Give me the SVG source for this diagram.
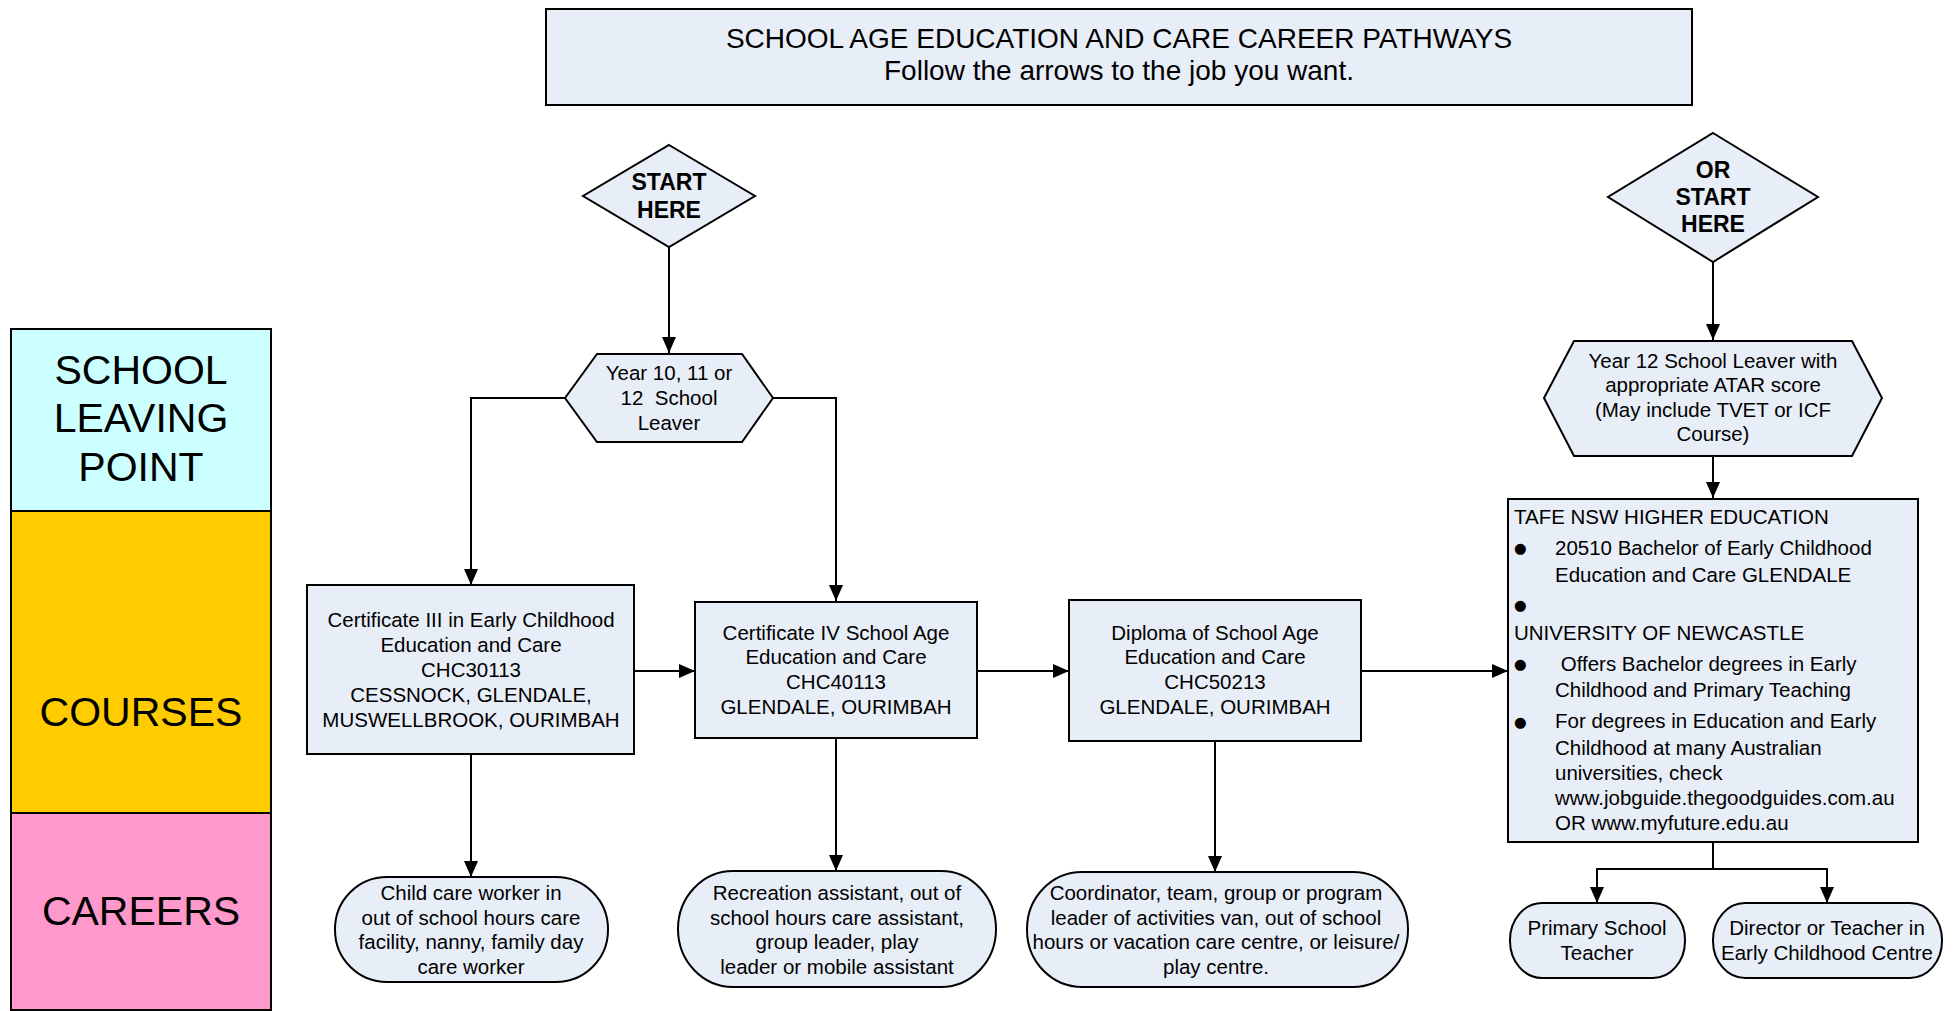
<svg xmlns="http://www.w3.org/2000/svg" width="1959" height="1011" viewBox="0 0 1959 1011">
<defs>
<style>
text{font-family:"Liberation Sans",Arial,sans-serif;fill:#000;white-space:pre}
.n{fill:#E8EEF7;stroke:#000;stroke-width:2}
.b{font-size:20.5px;text-anchor:middle}
.l{font-size:20.5px}
.bu{font-family:"DejaVu Sans",sans-serif;font-size:14.5px}
.h{font-size:23px;font-weight:bold;text-anchor:middle}
.big{font-size:41px;text-anchor:middle}
.t{font-size:28px;text-anchor:middle}
.c{fill:none;stroke:#000;stroke-width:2}
</style>
<marker id="ar" viewBox="0 0 16 14" refX="16" refY="7" markerWidth="16" markerHeight="14" markerUnits="userSpaceOnUse" orient="auto">
<path d="M0,0 L16,7 L0,14 Z" fill="#000"/>
</marker>
</defs>
<rect width="1959" height="1011" fill="#fff"/>

<g id="band-leaving">
<rect x="11" y="329" width="260" height="182" fill="#CCFFFF" stroke="#000" stroke-width="2"/>
<text class="big" x="141" y="384">SCHOOL</text>
<text class="big" x="141" y="432">LEAVING</text>
<text class="big" x="141" y="481">POINT</text>
</g>
<g id="band-courses">
<rect x="11" y="511" width="260" height="302" fill="#FFCC00" stroke="#000" stroke-width="2"/>
<text class="big" x="141" y="726">COURSES</text>
</g>
<g id="band-careers">
<rect x="11" y="813" width="260" height="197" fill="#FF99CC" stroke="#000" stroke-width="2"/>
<text class="big" x="141" y="925">CAREERS</text>
</g>

<g id="title">
<rect class="n" x="546" y="9" width="1146" height="96" stroke-width="2.5"/>
<text class="t" x="1119" y="48">SCHOOL AGE EDUCATION AND CARE CAREER PATHWAYS</text>
<text class="t" x="1119" y="80">Follow the arrows to the job you want.</text>
</g>

<g id="connectors">
<line class="c" x1="669" y1="247" x2="669" y2="353" marker-end="url(#ar)"/>
<polyline class="c" points="565,398 471,398 471,585" marker-end="url(#ar)"/>
<polyline class="c" points="773,398 836,398 836,601" marker-end="url(#ar)"/>
<line class="c" x1="634" y1="671" x2="695" y2="671" marker-end="url(#ar)"/>
<line class="c" x1="977" y1="671" x2="1069" y2="671" marker-end="url(#ar)"/>
<line class="c" x1="1361" y1="671" x2="1508" y2="671" marker-end="url(#ar)"/>
<line class="c" x1="471" y1="754" x2="471" y2="877" marker-end="url(#ar)"/>
<line class="c" x1="836" y1="738" x2="836" y2="871" marker-end="url(#ar)"/>
<line class="c" x1="1215" y1="741" x2="1215" y2="872" marker-end="url(#ar)"/>
<line class="c" x1="1713" y1="262" x2="1713" y2="340" marker-end="url(#ar)"/>
<line class="c" x1="1713" y1="456" x2="1713" y2="498" marker-end="url(#ar)"/>
<polyline class="c" points="1713,842 1713,869 1597,869 1597,903" marker-end="url(#ar)"/>
<polyline class="c" points="1713,869 1827,869 1827,903" marker-end="url(#ar)"/>
</g>

<g id="start-here">
<polygon class="n" points="669,145 755,196 669,247 583,196"/>
<text class="h" x="669" y="190">START</text>
<text class="h" x="669" y="218">HERE</text>
</g>

<g id="year-10-11-12">
<polygon class="n" points="565,398 597,354 742,354 773,398 742,442 597,442"/>
<text class="b" x="669" y="380">Year 10, 11 or</text>
<text class="b" x="669" y="405">12  School</text>
<text class="b" x="669" y="430">Leaver</text>
</g>

<g id="cert-iii">
<rect class="n" x="307" y="585" width="327" height="169"/>
<text class="b" x="471" y="627">Certificate III in Early Childhood</text>
<text class="b" x="471" y="652">Education and Care</text>
<text class="b" x="471" y="677">CHC30113</text>
<text class="b" x="471" y="702">CESSNOCK, GLENDALE,</text>
<text class="b" x="471" y="727">MUSWELLBROOK, OURIMBAH</text>
</g>

<g id="cert-iv">
<rect class="n" x="695" y="602" width="282" height="136"/>
<text class="b" x="836" y="640">Certificate IV School Age</text>
<text class="b" x="836" y="664">Education and Care</text>
<text class="b" x="836" y="689">CHC40113</text>
<text class="b" x="836" y="714">GLENDALE, OURIMBAH</text>
</g>

<g id="diploma">
<rect class="n" x="1069" y="600" width="292" height="141"/>
<text class="b" x="1215" y="640">Diploma of School Age</text>
<text class="b" x="1215" y="664">Education and Care</text>
<text class="b" x="1215" y="689">CHC50213</text>
<text class="b" x="1215" y="714">GLENDALE, OURIMBAH</text>
</g>

<g id="or-start-here">
<polygon class="n" points="1713,133 1818,197 1713,262 1608,197"/>
<text class="h" x="1713" y="178">OR</text>
<text class="h" x="1713" y="205">START</text>
<text class="h" x="1713" y="232">HERE</text>
</g>

<g id="year-12">
<polygon class="n" points="1544,398 1574,341 1852,341 1882,398 1852,456 1574,456"/>
<text class="b" x="1713" y="368">Year 12 School Leaver with</text>
<text class="b" x="1713" y="392">appropriate ATAR score</text>
<text class="b" x="1713" y="417">(May include TVET or ICF</text>
<text class="b" x="1713" y="441">Course)</text>
</g>

<g id="higher-education">
<rect class="n" x="1508" y="499" width="410" height="343"/>
<text class="l" x="1514" y="524">TAFE NSW HIGHER EDUCATION</text>
<text class="bu" x="1514" y="553">●</text>
<text class="l" x="1555" y="555">20510 Bachelor of Early Childhood</text>
<text class="l" x="1555" y="582">Education and Care GLENDALE</text>
<text class="bu" x="1514" y="610">●</text>
<text class="l" x="1514" y="640">UNIVERSITY OF NEWCASTLE</text>
<text class="bu" x="1514" y="669">●</text>
<text class="l" x="1555" y="671"> Offers Bachelor degrees in Early</text>
<text class="l" x="1555" y="697">Childhood and Primary Teaching</text>
<text class="bu" x="1514" y="727">●</text>
<text class="l" x="1555" y="728">For degrees in Education and Early</text>
<text class="l" x="1555" y="755">Childhood at many Australian</text>
<text class="l" x="1555" y="780">universities, check</text>
<text class="l" x="1555" y="805">www.jobguide.thegoodguides.com.au</text>
<text class="l" x="1555" y="830">OR www.myfuture.edu.au</text>
</g>

<g id="career-childcare">
<rect class="n" x="335" y="877" width="273" height="105" rx="52" ry="52"/>
<text class="b" x="471" y="900">Child care worker in</text>
<text class="b" x="471" y="925">out of school hours care</text>
<text class="b" x="471" y="949">facility, nanny, family day</text>
<text class="b" x="471" y="974">care worker</text>
</g>

<g id="career-recreation">
<rect class="n" x="678" y="871" width="318" height="116" rx="55" ry="58"/>
<text class="b" x="837" y="900">Recreation assistant, out of</text>
<text class="b" x="837" y="925">school hours care assistant,</text>
<text class="b" x="837" y="949">group leader, play</text>
<text class="b" x="837" y="974">leader or mobile assistant</text>
</g>

<g id="career-coordinator">
<rect class="n" x="1027" y="872" width="381" height="115" rx="55" ry="57"/>
<text class="b" x="1216" y="900">Coordinator, team, group or program</text>
<text class="b" x="1216" y="925">leader of activities van, out of school</text>
<text class="b" x="1216" y="949">hours or vacation care centre, or leisure/</text>
<text class="b" x="1216" y="974">play centre.</text>
</g>

<g id="career-primary">
<rect class="n" x="1510" y="903" width="175" height="75" rx="32" ry="37"/>
<text class="b" x="1597" y="935">Primary School</text>
<text class="b" x="1597" y="960">Teacher</text>
</g>

<g id="career-director">
<rect class="n" x="1713" y="903" width="229" height="75" rx="32" ry="37"/>
<text class="b" x="1827" y="935">Director or Teacher in</text>
<text class="b" x="1827" y="960">Early Childhood Centre</text>
</g>
</svg>
